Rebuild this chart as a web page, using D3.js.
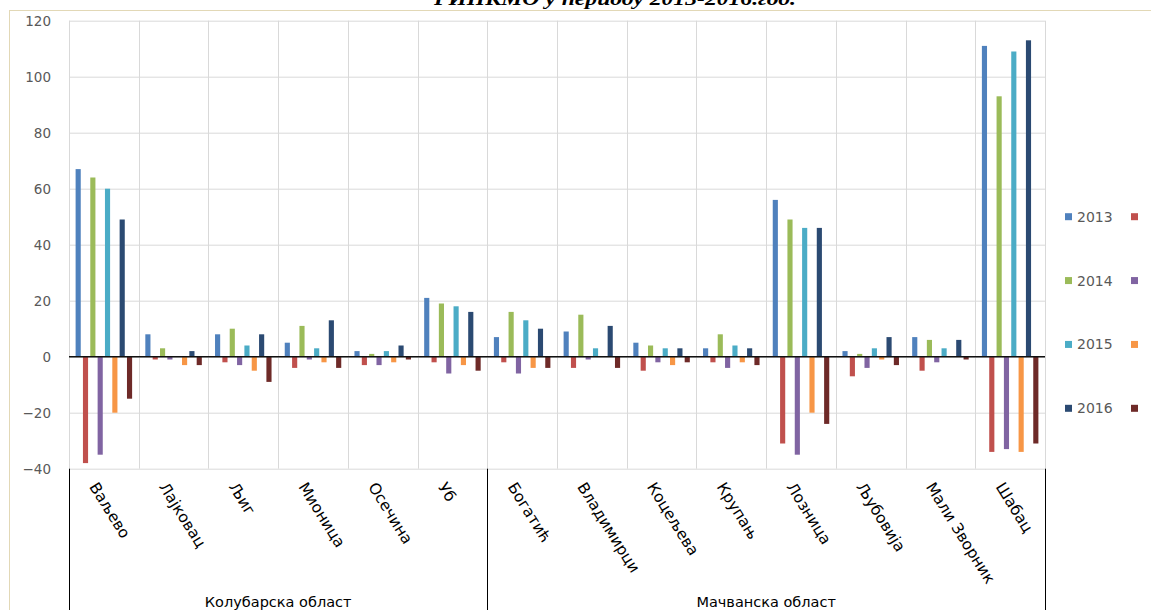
<!DOCTYPE html>
<html>
<head>
<meta charset="utf-8">
<script src="https://cdn.jsdelivr.net/npm/d3@7"></script>
<style>
  html, body { margin: 0; padding: 0; background: #fff; }
  svg { display: block; }
</style>
</head>
<body>
<svg id="chart" width="1151" height="610"></svg>
<script>
// ---------- DATA ----------
const titleText = "РИНКМО у периоду 2013-2016.год.";
const categories = ["Ваљево","Лајковац","Љиг","Мионица","Осечина","Уб",
  "Богатић","Владимирци","Коцељева","Крупањ","Лозница","Љубовија","Мали Зворник","Шабац"];
const groupNames = ["Колубарска област", "Мачванска област"];
const groupSizes = [6, 8];
const seriesLabels = ["2013", "", "2014", "", "2015", "", "2016", ""];
const seriesColors = ["#4F81BD", "#C0504D", "#9BBB59", "#8064A2", "#4BACC6", "#F79646", "#2B4A72", "#6E2A28"];
const s1 = [67, 8, 8, 5, 2, 21, 7, 9, 5, 3, 56, 2, 7, 111];
const s2 = [-38, -1, -2, -4, -3, -2, -2, -4, -5, -2, -31, -7, -5, -34];
const s3 = [64, 3, 10, 11, 1, 19, 16, 15, 4, 8, 49, 1, 6, 93];
const s4 = [-35, -1, -3, -1, -3, -6, -6, -1, -2, -4, -35, -4, -2, -33];
const s5 = [60, 0, 4, 3, 2, 18, 13, 3, 3, 4, 46, 3, 3, 109];
const s6 = [-20, -3, -5, -2, -2, -3, -4, 0, -3, -2, -20, -1, 0, -34];
const s7 = [49, 2, 8, 13, 4, 16, 10, 11, 3, 3, 46, 7, 6, 113];
const s8 = [-15, -3, -9, -4, -1, -5, -4, -4, -2, -3, -24, -3, -1, -31];
const yTicks = [-40, -20, 0, 20, 40, 60, 80, 100, 120];

// ---------- BUILD ----------
const seriesValues = [s1, s2, s3, s4, s5, s6, s7, s8];
const seriesIdx = d3.range(seriesValues.length);
const svg = d3.select("#chart");

const L = 69, R = 1045, T = 20.7, B = 468.7;

const x0 = d3.scaleBand().domain(categories).range([L, R]).padding(0);
const x1 = d3.scaleBand().domain(seriesIdx).range([0, x0.bandwidth()])
  .paddingInner(0.3).paddingOuter(0.9);
const y = d3.scaleLinear().domain([-40, 120]).range([B, T]);

// outer frame
svg.append("rect").attr("x", 9.5).attr("y", 10.5).attr("width", 1160).attr("height", 620)
  .attr("fill", "none").attr("stroke", "#e2d8b6").attr("stroke-width", 1);

// title (partially cut at top)
svg.append("text").attr("x", 615).attr("y", 5)
  .attr("text-anchor", "middle")
  .attr("font-family", "Liberation Serif").attr("font-weight", "bold").attr("font-style", "italic")
  .attr("font-size", 19).attr("fill", "#000")
  .attr("textLength", 362).attr("lengthAdjust", "spacingAndGlyphs")
  .text(titleText);

// horizontal gridlines
svg.append("g").selectAll("line").data(yTicks).join("line")
  .attr("x1", L).attr("x2", R)
  .attr("y1", d => y(d) + 0.5).attr("y2", d => y(d) + 0.5)
  .attr("stroke", "#d9d9d9").attr("stroke-width", 1);

// vertical gridlines at category boundaries
const bounds = categories.map(c => x0(c)).concat([R]);
svg.append("g").selectAll("line").data(bounds).join("line")
  .attr("x1", d => Math.round(d) + 0.5).attr("x2", d => Math.round(d) + 0.5)
  .attr("y1", T).attr("y2", B)
  .attr("stroke", "#d9d9d9").attr("stroke-width", 1);

// y axis labels
const yAxis = d3.axisLeft(y).tickValues(yTicks).tickSize(0).tickPadding(0);
const gy = svg.append("g").attr("transform", `translate(${L - 18},0)`).call(yAxis);
gy.select(".domain").remove();
gy.selectAll("text").attr("font-family", "DejaVu Sans").attr("font-size", 13.5).attr("fill", "#595959");

// bars
const gBars = svg.append("g");
seriesIdx.forEach(si => {
  gBars.append("g").attr("fill", seriesColors[si])
    .selectAll("rect").data(seriesValues[si]).join("rect")
    .attr("x", (d, i) => x0(categories[i]) + x1(si))
    .attr("width", x1.bandwidth())
    .attr("y", d => y(Math.max(0, d)))
    .attr("height", d => Math.abs(y(d) - y(0)));
});

// zero line
svg.append("line").attr("x1", L).attr("x2", R)
  .attr("y1", y(0)).attr("y2", y(0))
  .attr("stroke", "#111").attr("stroke-width", 1.5);

// category labels (rotated)
const gx = svg.append("g");
gx.selectAll("text").data(categories).join("text")
  .attr("transform", d => `translate(${x0(d) + x0.bandwidth() / 2 - 15},${B + 18}) rotate(58)`)
  .attr("text-anchor", "start")
  .attr("font-family", "DejaVu Sans").attr("font-size", 15.5).attr("fill", "#000")
  .text(d => d);

// group separators below axis
let acc = 0;
const groupStarts = groupSizes.map(n => { const s = acc; acc += n; return s; });
const sepX = groupStarts.map(s => x0(categories[s])).concat([R]);
svg.append("g").selectAll("line").data(sepX).join("line")
  .attr("x1", d => Math.round(d) + 0.5).attr("x2", d => Math.round(d) + 0.5)
  .attr("y1", B).attr("y2", 612)
  .attr("stroke", "#000").attr("stroke-width", 1);

// group labels
svg.append("g").selectAll("text").data(groupNames).join("text")
  .attr("x", (d, i) => (sepX[i] + sepX[i + 1]) / 2)
  .attr("y", 607)
  .attr("text-anchor", "middle")
  .attr("font-family", "DejaVu Sans").attr("font-size", 14.5).attr("fill", "#000")
  .text(d => d);

// legend: 4 rows x 2 columns
const legendRows = [0, 1, 2, 3];
const legendY = d3.scaleLinear().domain([0, 3]).range([216.7, 408.3]);
const lg = svg.append("g");
legendRows.forEach(r => {
  const a = r * 2, b = r * 2 + 1;
  const cy = legendY(r);
  lg.append("rect").attr("x", 1065).attr("y", cy - 3.5).attr("width", 7).attr("height", 7).attr("fill", seriesColors[a]);
  lg.append("text").attr("x", 1077).attr("y", cy).attr("dy", "0.36em")
    .attr("font-family", "DejaVu Sans").attr("font-size", 14).attr("fill", "#595959").text(seriesLabels[a]);
  lg.append("rect").attr("x", 1131).attr("y", cy - 3.5).attr("width", 7).attr("height", 7).attr("fill", seriesColors[b]);
  lg.append("text").attr("x", 1143).attr("y", cy).attr("dy", "0.36em")
    .attr("font-family", "DejaVu Sans").attr("font-size", 14).attr("fill", "#595959").text(seriesLabels[b]);
});
</script>
</body>
</html>
